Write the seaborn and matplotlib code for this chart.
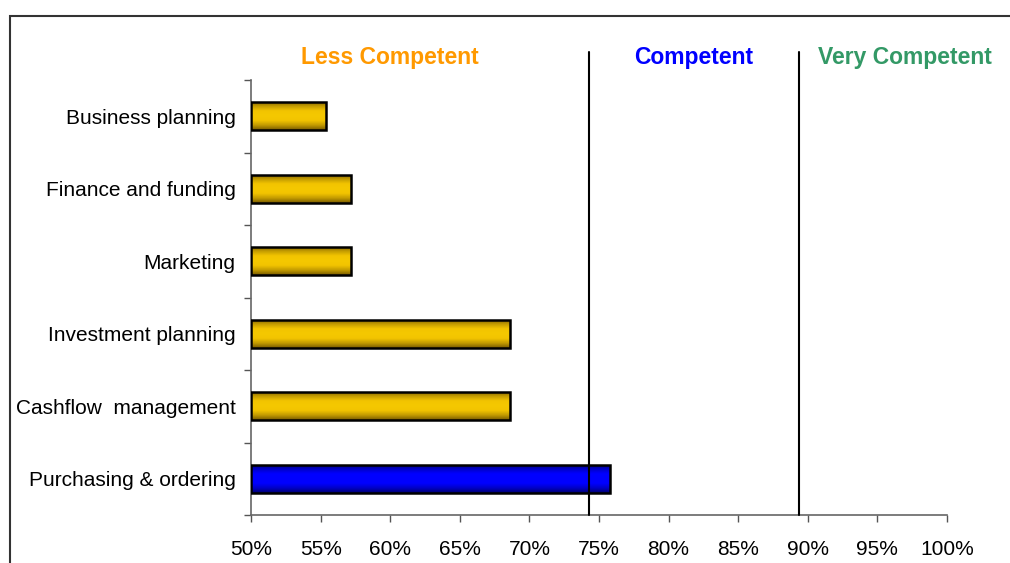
import numpy as np
import pandas as pd
import matplotlib
matplotlib.use("Agg")
import matplotlib.pyplot as plt
import seaborn as sns
from matplotlib.colors import LinearSegmentedColormap
from matplotlib.patches import Rectangle

categories = ["Business planning", "Finance and funding", "Marketing",
              "Investment planning", "Cashflow  management", "Purchasing & ordering"]
values = [55.4, 57.2, 57.2, 68.6, 68.6, 75.8]
bar_colors = ["gold", "gold", "gold", "gold", "gold", "blue"]
thresholds = [74.3, 89.4]
band_labels = ["Less Competent", "Competent", "Very Competent"]
band_label_x = [60.0, 81.8, 97.0]
band_label_colors = ["#FF9900", "#0000FF", "#339966"]
xticks = [50, 55, 60, 65, 70, 75, 80, 85, 90, 95, 100]
x_start = 50

sns.set_style("white")
plt.rcParams['font.family'] = ['Liberation Sans', 'DejaVu Sans']

df = pd.DataFrame({"cat": categories, "val": values})

fig = plt.figure(figsize=(10.1, 5.63), dpi=100)
ax = fig.add_axes([251/1010, 1-515/563, 696/1010, 435/563])

sns.barplot(data=df, x="val", y="cat", orient="h", ax=ax, width=0.39,
            color="#F0C000", edgecolor="black", linewidth=1.5)

cmaps = {
    "gold": LinearSegmentedColormap.from_list(
        "g", ["#7A5C00", "#C49C00", "#F2C400", "#F5C800", "#F2C400", "#C49C00", "#7A5C00"]),
    "blue": LinearSegmentedColormap.from_list(
        "b", ["#000070", "#0000C8", "#0000FF", "#0000FF", "#0000FF", "#0000C8", "#000070"]),
}
grad = np.linspace(0, 1, 64).reshape(-1, 1)
bars = list(ax.patches)
for patch, c in zip(bars, bar_colors):
    y0, h = patch.get_y(), patch.get_height()
    x1 = patch.get_x() + patch.get_width()
    patch.set_visible(False)
    rect = Rectangle((x_start, y0), x1 - x_start, h, facecolor="none",
                     edgecolor="black", linewidth=1.8, zorder=3)
    ax.add_patch(rect)
    im = ax.imshow(grad, cmap=cmaps[c], aspect="auto",
                   extent=[x_start, x1, y0 + h, y0], zorder=2,
                   interpolation="bilinear")
    im.set_clip_path(rect)
ax.set_xlim(50, 100)
ax.set_ylim(len(categories) - 0.5, -0.5)
ax.set_aspect("auto")

for t in thresholds:
    ax.axvline(t, ymin=0, ymax=1.064, color="black", linewidth=1.5, clip_on=False, zorder=4)

for lab, xx, col in zip(band_labels, band_label_x, band_label_colors):
    ax.text(xx, 1.052, lab, transform=ax.get_xaxis_transform(), ha="center", va="center",
            color=col, fontsize=16.5, fontweight="bold")

ax.set_xticks(xticks)
ax.set_xticklabels([f"{t}%" for t in xticks], fontsize=15, color="black")
ax.set_yticks(np.arange(-0.5, len(categories), 1.0), minor=True)
ax.set_yticks(range(len(categories)))
ax.set_yticklabels(categories, fontsize=15, color="black")
ax.tick_params(axis="y", which="major", length=0, pad=11)
ax.tick_params(axis="y", which="minor", length=5, width=1, color="#555555", direction="out", left=True)
ax.tick_params(axis="x", which="major", length=5, width=1, color="#555555", direction="out", bottom=True, pad=13)
ax.set_xlabel("")
ax.set_ylabel("")
for s in ["top", "right"]:
    ax.spines[s].set_visible(False)
for s in ["left", "bottom"]:
    ax.spines[s].set_color("#666666")
    ax.spines[s].set_linewidth(1.2)

frame = Rectangle((9.5/1010, -0.1), 1.2, (1 - 15.5/563) + 0.1, transform=fig.transFigure,
                  fill=False, edgecolor="#333333", linewidth=1.5)
fig.patches.append(frame)

fig.savefig("out.png", dpi=100, facecolor="white")
